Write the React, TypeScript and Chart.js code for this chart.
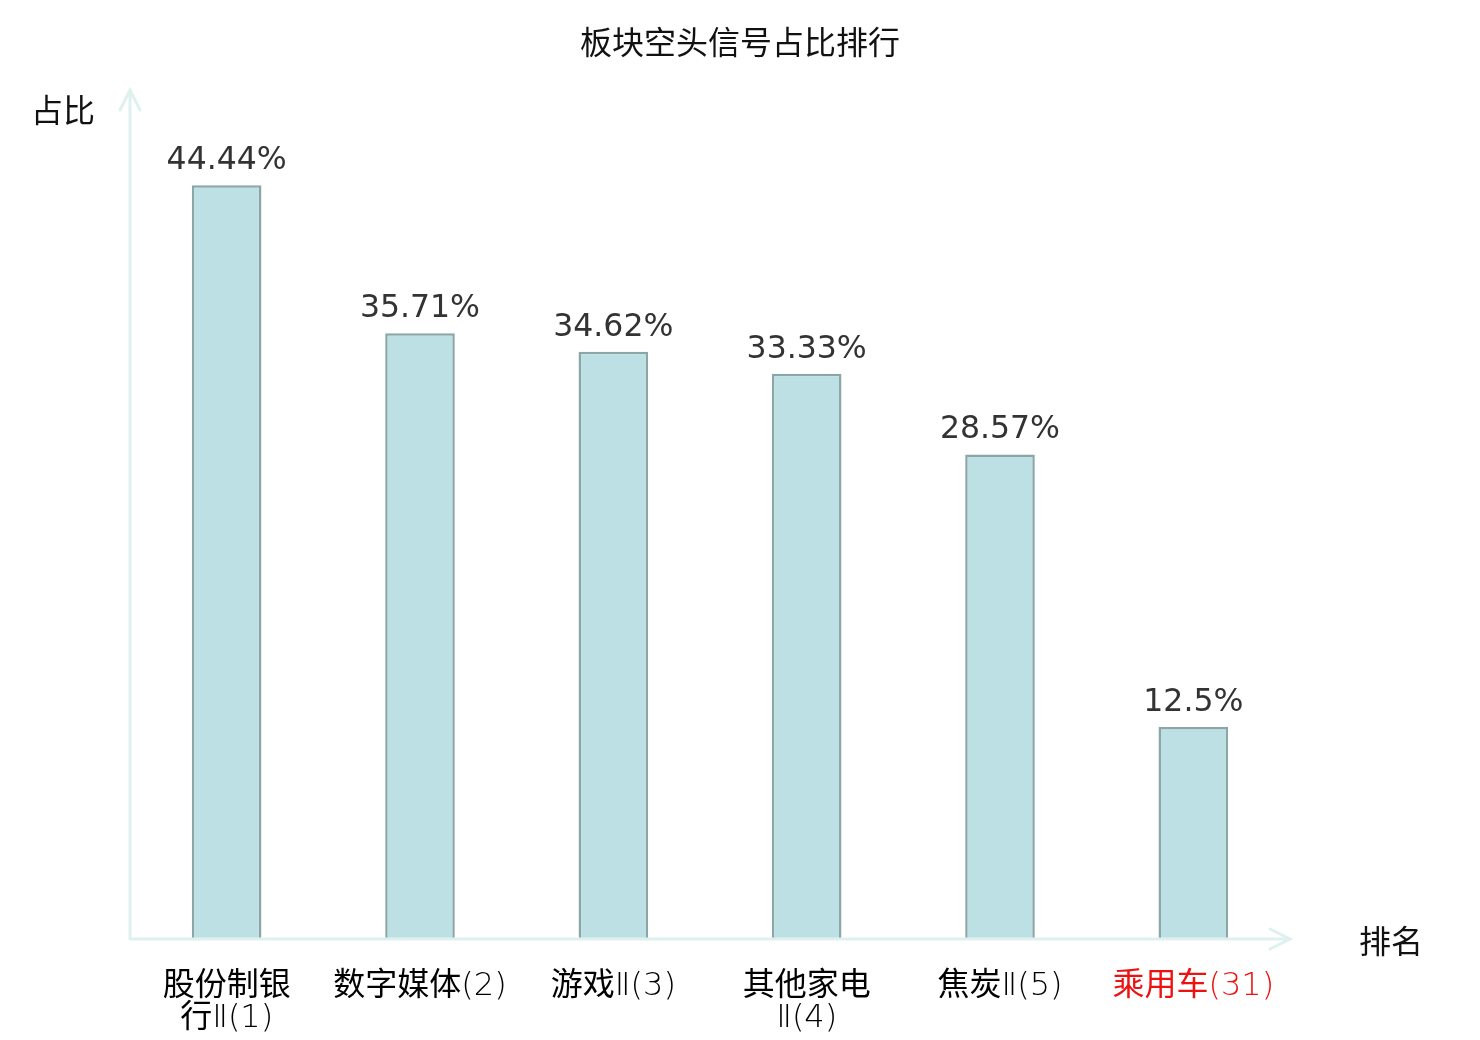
import { useEffect, useRef } from "react";
import { Chart, registerables } from "chart.js";
import type { Plugin } from "chart.js";

Chart.register(...registerables);

const categories: string[][] = [
  ["股份制银", "行Ⅱ(1)"],
  ["数字媒体(2)"],
  ["游戏Ⅱ(3)"],
  ["其他家电", "Ⅱ(4)"],
  ["焦炭Ⅱ(5)"],
  ["乘用车(31)"],
];
const shareValues = [44.44, 35.71, 34.62, 33.33, 28.57, 12.5];
const shareLabels = ["44.44%", "35.71%", "34.62%", "33.33%", "28.57%", "12.5%"];
const highlightIndex = 5;

const FONT = "'DejaVu Sans', 'Noto Sans CJK SC', sans-serif";
const CJK_FONT = "'Noto Sans CJK SC', sans-serif";
const AXIS_COLOR = "#dff1ee";
const TICK_SIZE = 32;

// split a label line into runs of CJK / other characters so each can get its own font
function splitRuns(text: string) {
  const runs: { text: string; cjk: boolean }[] = [];
  for (const ch of text) {
    const cjk = /[\u4e00-\u9fff]/.test(ch);
    const last = runs[runs.length - 1];
    if (last && last.cjk === cjk) last.text += ch;
    else runs.push({ text: ch, cjk });
  }
  return runs;
}

const decorPlugin: Plugin<"bar"> = {
  id: "decor",
  afterDatasetsDraw(chart) {
    const { ctx, chartArea } = chart;
    const { left, right, top, bottom } = chartArea;
    ctx.save();

    // axis lines with arrow heads
    ctx.strokeStyle = AXIS_COLOR;
    ctx.lineWidth = 3;
    ctx.lineCap = "round";
    ctx.beginPath();
    ctx.moveTo(left, bottom);
    ctx.lineTo(left, top - 1);
    ctx.moveTo(left - 10, top + 19);
    ctx.lineTo(left, top - 1);
    ctx.lineTo(left + 10, top + 19);
    ctx.moveTo(left, bottom);
    ctx.lineTo(right, bottom);
    ctx.moveTo(right - 20, bottom - 10);
    ctx.lineTo(right, bottom);
    ctx.lineTo(right - 20, bottom + 10);
    ctx.stroke();

    // value labels
    const meta = chart.getDatasetMeta(0);
    ctx.fillStyle = "#333333";
    ctx.font = `31.5px ${FONT}`;
    ctx.textAlign = "center";
    ctx.textBaseline = "alphabetic";
    meta.data.forEach((bar, i) => {
      ctx.fillText(shareLabels[i], bar.x, bar.y - 16);
    });

    // category labels: regular CJK, thin latin, shared baseline
    const xScale = chart.scales.x;
    const cjkFont = `${TICK_SIZE}px ${CJK_FONT}`;
    const latinFont = `200 ${TICK_SIZE}px 'DejaVu Sans', sans-serif`;
    ctx.textAlign = "left";
    ctx.textBaseline = "alphabetic";
    categories.forEach((lines, i) => {
      const cx = xScale.getPixelForTick(i);
      ctx.fillStyle = i === highlightIndex ? "#ee1111" : "#000000";
      lines.forEach((line, li) => {
        const runs = splitRuns(line);
        const widths = runs.map((r) => {
          ctx.font = r.cjk ? cjkFont : latinFont;
          return ctx.measureText(r.text).width;
        });
        let x = cx - widths.reduce((a, b) => a + b, 0) / 2;
        const y = bottom + 56 + li * TICK_SIZE;
        runs.forEach((r, ri) => {
          ctx.font = r.cjk ? cjkFont : latinFont;
          ctx.fillText(r.text, x, y);
          x += widths[ri];
        });
      });
    });

    // title and axis names
    ctx.fillStyle = "#111111";
    ctx.font = `32px ${CJK_FONT}`;
    ctx.textAlign = "center";
    ctx.textBaseline = "middle";
    ctx.fillText("板块空头信号占比排行", 740, 42);
    ctx.fillText("占比", 63, 110);
    ctx.fillText("排名", 1391, 941);
    ctx.restore();
  },
};

export default function App() {
  const canvasRef = useRef<HTMLCanvasElement>(null);
  const chartRef = useRef<Chart<"bar"> | null>(null);

  useEffect(() => {
    document.body.style.margin = "0";
    if (!canvasRef.current) return;
    if (chartRef.current) chartRef.current.destroy();

    chartRef.current = new Chart(canvasRef.current, {
      type: "bar",
      data: {
        labels: categories,
        datasets: [
          {
            data: shareValues,
            backgroundColor: "#bce0e3",
            borderColor: "#8aa6a7",
            borderWidth: 2.5,
            borderSkipped: "bottom",
            categoryPercentage: 1,
            barPercentage: 0.36,
          },
        ],
      },
      options: {
        animation: false,
        responsive: true,
        maintainAspectRatio: false,
        layout: { padding: { left: 130, right: 190, top: 91, bottom: 0 } },
        plugins: {
          legend: { display: false },
          tooltip: { enabled: false },
        },
        scales: {
          x: {
            border: { display: false },
            grid: { display: false, drawTicks: false },
            ticks: { display: false },
            afterFit: (scale) => {
              scale.height = 101;
            },
          },
          y: {
            display: false,
            min: 0,
            max: 50,
          },
        },
      },
      plugins: [decorPlugin],
    });

    return () => {
      if (chartRef.current) {
        chartRef.current.destroy();
        chartRef.current = null;
      }
    };
  }, []);

  return (
    <div style={{ width: 1480, height: 1040, position: "relative", background: "#fff" }}>
      <canvas ref={canvasRef} />
    </div>
  );
}
